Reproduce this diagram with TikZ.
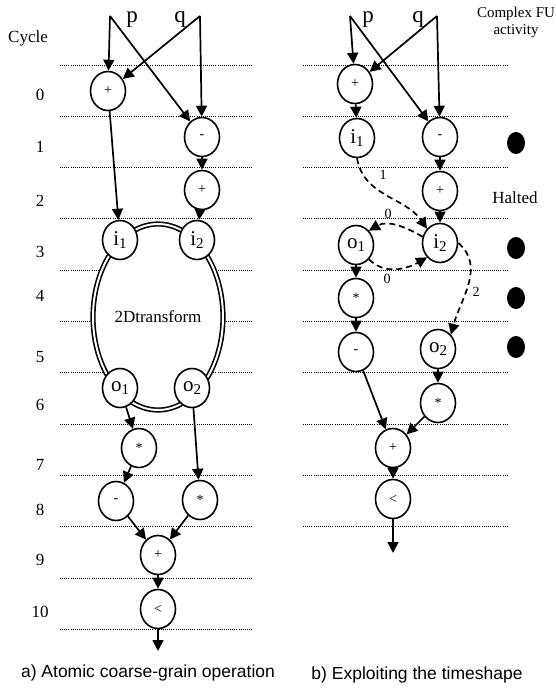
\documentclass[tikz,border=0pt]{standalone}
\usepackage{fontspec}
\setmainfont{Liberation Serif}
\newfontfamily\capfont{Liberation Sans}
\usetikzlibrary{arrows.meta,shapes.geometric}
\newcommand\lbl[2]{#1\raisebox{-0.4ex}{\fontsize{15}{15}\selectfont #2}}
\begin{document}
\begin{tikzpicture}[x=1pt,y=-1pt,
  op/.style={draw, line width=1.6pt, shape=ellipse, fill=white, inner sep=0pt,
    minimum width=35pt, minimum height=39pt, font=\fontsize{14}{14}\selectfont},
  io/.style={op, font=\fontsize{21}{21}\selectfont},
  fu/.style={draw, double, double distance=2pt, line width=1.6pt, shape=ellipse,
    fill=white, minimum width=130pt, minimum height=186pt, inner sep=0pt,
    font=\fontsize{17}{17}\selectfont},
  flow/.style={-{Triangle[length=11pt,width=11pt]}, line width=1.7pt},
  dep/.style={flow, dash pattern=on 6pt off 4pt},
  slot/.style={line width=1pt, dash pattern=on 1pt off 1.1pt},
  txt/.style={inner sep=0pt, font=\fontsize{17}{17}\selectfont},
  big/.style={inner sep=0pt, anchor=base, font=\fontsize{23}{23}\selectfont},
  small/.style={inner sep=0pt, font=\fontsize{14}{14}\selectfont},
  halt/.style={fill=black, draw=none, shape=ellipse, minimum width=18pt, minimum height=22pt, inner sep=0pt},
]
\useasboundingbox (0,0) rectangle (555,688);

% cycle boundaries
\foreach \k in {0,...,11} \draw[slot] (60,65+51.3*\k) -- (252,65+51.3*\k);
\foreach \k in {0,...,9} \draw[slot] (303,65+51.3*\k) -- (507,65+51.3*\k);

% cycle numbers
\node[txt] (cyc) at (28,38) {Cycle};
\foreach \n/\y in {0/95,1/147,2/201,3/252,4/296,5/357,6/405,7/465,8/510,9/560,10/612}
  \node[txt] (c\n) at (40,\y) {\n};

% ---------- a) atomic operation ----------
\coordinate (Lpsrc) at (110,16);
\coordinate (Lqsrc) at (200,16);
\node[big] (Lp) at (132,22) {p};
\node[big] (Lq) at (180,22) {q};

\node[op] (Lp0) at (108,91) {+};
\node[op] (Lm1) at (202,137) {-};
\node[op] (Lp2) at (202,190) {+};
\node[fu] (Lfu) at (158,317) {2Dtransform};
\node[io] (Li1) at (120,240) {\lbl{i}{1}};
\node[io] (Li2) at (197,240) {\lbl{i}{2}};
\node[io] (Lo1) at (120,388) {\lbl{o}{1}};
\node[io] (Lo2) at (192,388) {\lbl{o}{2}};
\node[op] (Ls7) at (139,448) {*};
\node[op] (Lm8) at (116,501) {-};
\node[op] (Ls8) at (200,500) {*};
\node[op] (Lp9) at (158,555) {+};
\node[op] (Llt) at (158,609) {<};
\coordinate (Lout) at (158,651);

\draw[flow] (Lpsrc) -- (Lp0);
\draw[flow] (Lpsrc) -- (Lm1);
\draw[flow] (Lqsrc) -- (Lp0);
\draw[flow] (Lqsrc) -- (Lm1);
\draw[flow] (Lp0) -- (Li1);
\draw[flow] (Lm1) -- (Lp2);
\draw[flow] (Lp2) -- (Li2);
\draw[flow] (Lo1) -- (Ls7);
\draw[flow] (Lo2) -- (Ls8);
\draw[flow] (Ls7) -- (Lm8);
\draw[flow] (Lm8) -- (Lp9);
\draw[flow] (Ls8) -- (Lp9);
\draw[flow] (Lp9) -- (Llt);
\draw[flow] (Llt) -- (Lout);

% ---------- b) timeshape ----------
\coordinate (Rpsrc) at (350,16);
\coordinate (Rqsrc) at (437,16);
\node[big] (Rp) at (368,22) {p};
\node[big] (Rq) at (418,22) {q};

\node[txt, font=\fontsize{15}{15}\selectfont, align=center] (fuact) at (516,22)
  {Complex FU\\[2pt]activity};
\node[txt] (halted) at (515,198) {Halted};

\node[op] (Rp0) at (355,84) {+};
\node[io] (Ri1) at (357,138) {\lbl{i}{1}};
\node[op] (Rm1) at (440,137) {-};
\node[op] (Rp2) at (440,191) {+};
\node[io] (Ri2) at (440,243) {\lbl{i}{2}};
\node[io] (Ro1) at (356,245) {\lbl{o}{1}};
\node[op] (Rs4) at (356,298) {*};
\node[op] (Rm5) at (356,352) {-};
\node[io] (Ro2) at (438,349) {\lbl{o}{2}};
\node[op] (Rs6) at (438,403) {*};
\node[op] (Rp7) at (393,448) {+};
\node[op] (Rlt) at (393,499) {<};
\coordinate (Rout) at (393,553);

\node[halt] (h1) at (516,143) {};
\node[halt] (h3) at (516,248) {};
\node[halt] (h4) at (516,298) {};
\node[halt] (h5) at (516,347) {};

\draw[flow] (Rpsrc) -- (Rp0);
\draw[flow] (Rpsrc) -- (Rm1);
\draw[flow] (Rqsrc) -- (Rp0);
\draw[flow] (Rqsrc) -- (Rm1);
\draw[flow] (Rp0) -- (Ri1);
\draw[flow] (Rm1) -- (Rp2);
\draw[flow] (Rp2) -- (Ri2);
\draw[flow] (Ro1) -- (Rs4);
\draw[flow] (Rs4) -- (Rm5);
\draw[flow] (Ro2) -- (Rs6);
\draw[flow] (Rm5) -- (Rp7);
\draw[flow] (Rs6) -- (Rp7);
\draw[flow] (Rp7) -- (Rlt);
\draw[flow] (Rlt) -- (Rout);

% latency-annotated dependences through the complex unit
\draw[dep] (Ri1.south) to[out=-80,in=125] (Ri2.north west);
\draw[dep] (Ri2.160) to[out=150,in=30] (Ro1.north east);
\draw[dep] (Ro1.south east) to[out=-45,in=-150] (Ri2.south west);
\draw[dep] (Ri2.east) to[out=-40,in=75] (Ro2.north east);
\node[small] (d1) at (383,175) {1};
\node[small] (d0a) at (388,214) {0};
\node[small] (d0b) at (387,279) {0};
\node[small] (d2) at (476,292) {2};

% captions
\node[inner sep=0pt, font=\capfont\fontsize{17.5}{17.5}\selectfont] (capa) at (148,673)
  {a) Atomic coarse-grain operation};
\node[inner sep=0pt, font=\capfont\fontsize{17.5}{17.5}\selectfont] (capb) at (417,675)
  {b) Exploiting the timeshape};
\end{tikzpicture}
\end{document}
